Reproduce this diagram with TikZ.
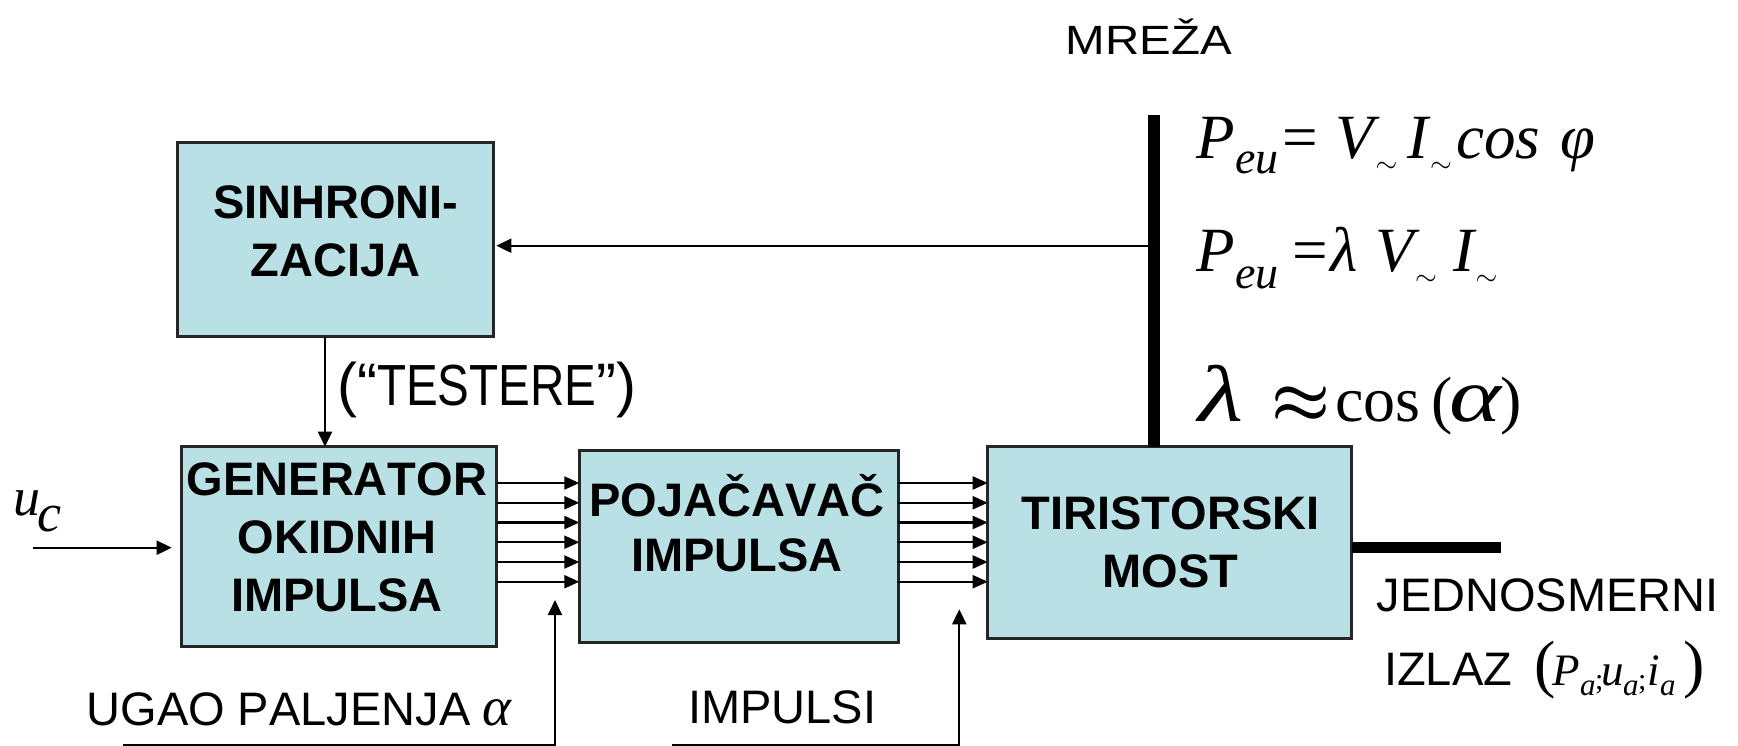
\RequirePackage{fix-cm}
\documentclass[tikz,border=0pt]{standalone}
\usepackage{fontspec}
\setmainfont[Kerning=Off]{Liberation Sans}
\newfontfamily\tms[Kerning=Off]{Liberation Serif}
\usetikzlibrary{arrows.meta}
\definecolor{boxfill}{RGB}{185,224,228}
\newcommand{\fsz}[1]{\fontsize{#1}{#1}\selectfont}
\newcommand{\mkp}[2]{\makebox[#1][l]{#2}}
\newcommand{\tld}{\raisebox{-14pt}{\fsz{28}$\sim$}}
\newcommand{\subA}{\raisebox{-10pt}{\fsz{31}a}}
\newcommand{\semi}{\raisebox{-4pt}{\upshape\fsz{30};}}
\begin{document}
\begin{tikzpicture}[x=1pt,y=-1pt,
  blk/.style={draw=black!85, line width=2.5pt, fill=boxfill, rectangle, inner sep=0pt, outer sep=0pt},
  btxt/.style={anchor=base, inner sep=0pt, font=\fsz{47}\bfseries},
  ntxt/.style={anchor=base west, inner sep=0pt, font=\fsz{47}},
  ftxt/.style={anchor=base west, inner sep=0pt},
  lnk/.style={line width=2pt},
  arr/.style={lnk, -{Triangle[length=15pt,width=14pt]}},
  marr/.style={line width=2.2pt, -{Triangle[length=15pt,width=13pt]}},
  bus/.style={line width=11.7pt}]
\useasboundingbox (0,0) rectangle (1738,746);
\fill[white] (0,0) rectangle (1738,746);

% blocks
\node[blk, minimum width=315.6pt, minimum height=194pt] (sin) at (335.5,239.7) {};
\node[blk, minimum width=315pt, minimum height=200pt] (gen) at (339.2,546.7) {};
\node[blk, minimum width=319pt, minimum height=191.6pt] (poj) at (738.8,546.5) {};
\node[blk, minimum width=364pt, minimum height=191.6pt] (tir) at (1169.7,542.5) {};

% block texts
\node[btxt] (sin1) at (335.8,218.3) {SINHRONI-};
\node[btxt] (sin2) at (335.8,276.7) {ZACIJA};
\node[btxt] (gen1) at (337,495) {GENERATOR};
\node[btxt] (gen2) at (337,553) {OKIDNIH};
\node[btxt] (gen3) at (337,611.5) {IMPULSA};
\node[btxt] (poj1) at (737,516) {POJAČAVAČ};
\node[btxt] (poj2) at (737,571.7) {IMPULSA};
\node[btxt] (tir1) at (1170.5,529) {TIRISTORSKI};
\node[btxt] (tir2) at (1170.5,587) {MOST};

% mains bus
\coordinate (mtop) at (1154,115);
\draw[bus] (mtop) -- (mtop |- tir.north);
\coordinate (tap) at (1154,245.7);
\draw[arr, shorten >=3pt] (tap) -- (sin.east |- tap);

% sawtooth link
\coordinate (tx) at (325,0);
\draw[arr] (sin.south -| tx) -- (gen.north -| tx);

% control input
\coordinate (ucin) at (33.3,547.7);
\draw[arr, shorten >=10pt] (ucin) -- (gen.west |- ucin);

% pulse bundles
\foreach \i in {0,...,5}{
  \pgfmathsetmacro\yy{483+19.75*\i}
  \draw[marr] (gen.east |- 0,\yy) -- (poj.west |- 0,\yy);
  \draw[marr] (poj.east |- 0,\yy) -- (tir.west |- 0,\yy);
}

% bottom feeds
\coordinate (ug0) at (123,745);
\coordinate (ugtip) at (555,600);
\draw[arr] (ug0) -| (ugtip);
\coordinate (im0) at (671.7,745);
\coordinate (imtip) at (959.3,609.3);
\draw[arr] (im0) -| (imtip);

% DC output
\coordinate (dcend) at (1501,547.5);
\draw[bus] (tir.east |- dcend) -- (dcend);

% labels
\node[ntxt] (mreza) at (1065.5,54.3) {\scalebox{1.01}[0.87]{MREŽA}};
\node[ntxt] (test) at (337,405) {\fsz{60}(“\scalebox{0.82}[1]{\fsz{58}TESTERE}”)};
\node[ftxt] (uc) at (13,515) {\tms\itshape\fsz{54}u\hspace{-3pt}\raisebox{-16.7pt}{c}};
\node[ntxt] (ugao) at (86.3,725) {\mkp{396pt}{UGAO PALJENJA}{\tms\itshape\fsz{55}α}};
\node[ntxt] (impl) at (688,723) {IMPULSI};
\node[ntxt] (jed) at (1376.5,611) {JEDNOSMERNI};
\node[ntxt] (izl) at (1384,685) {\mkp{150.5pt}{IZLAZ}{\tms\itshape\fsz{45}%
\mkp{17.5pt}{\upshape\fsz{64}(}\mkp{28pt}{P}\mkp{15pt}{\subA}\mkp{6pt}{\semi}\mkp{22pt}{u}\mkp{15pt}{\subA}\mkp{9pt}{\semi}\mkp{13pt}{i}\mkp{23pt}{\subA}{\upshape\fsz{64})}}};

% formulas
\node[ftxt] (f1) at (1196,158.3) {\tms\itshape\fsz{63}%
\mkp{39pt}{P}\mkp{43pt}{\raisebox{-15pt}{\fsz{46}eu}}\mkp{57pt}{=}\mkp{40.5pt}{V}\mkp{31.5pt}{\tld}\mkp{23pt}{I}\mkp{26pt}{\tld}\mkp{104pt}{cos}φ};
\node[ftxt] (f2) at (1196,271.7) {\tms\itshape\fsz{63}%
\mkp{39pt}{P}\mkp{53pt}{\raisebox{-16.6pt}{\fsz{46}eu}}\mkp{42pt}{=}\mkp{45pt}{λ}\mkp{40pt}{V}\mkp{38pt}{\tld}\mkp{22.5pt}{I}\tld};
\node[ftxt] (f3) at (1198,421.7) {\tms\fsz{64}%
\mkp{73pt}{\itshape\fsz{80}\scalebox{1.3}[1]{λ}}\mkp{64pt}{\fsz{66}\boldmath$\approx$}\mkp{96pt}{cos}\mkp{18pt}{(}\mkp{51pt}{\itshape\fsz{76}\scalebox{1.3}[1]{α}})};
\end{tikzpicture}
\end{document}
